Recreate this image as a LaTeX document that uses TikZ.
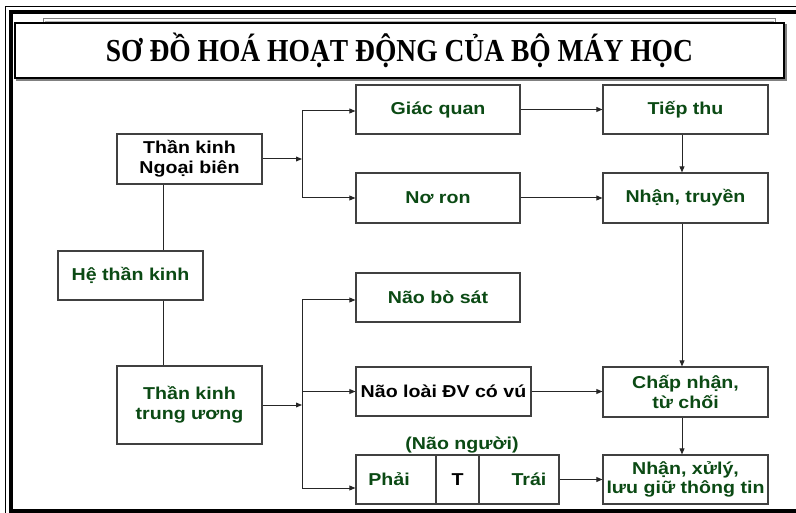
\documentclass[tikz,border=0pt]{standalone}
\usepackage{fontspec}
\usetikzlibrary{arrows.meta}
\newfontfamily\labfont[FakeStretch=1.14]{Liberation Sans}
\newfontfamily\titlefont[FakeStretch=0.86]{Liberation Serif}
\definecolor{dgreen}{HTML}{0B4A14}
\tikzset{
  box/.style={draw=black!75, line width=0.8pt, fill=white, inner sep=0pt, align=center,
    font=\labfont\bfseries\fontsize{12.9}{14.8}\selectfont, text=dgreen},
  blk/.style={text=black},
  conn/.style={line width=0.75pt, draw=black!85},
  arr/.style={conn, -{Triangle[length=4.5pt,width=3.6pt]}},
  lab/.style={inner sep=0pt, font=\labfont\bfseries\fontsize{12.9}{14.8}\selectfont, text=dgreen},
}
\begin{document}
\begin{tikzpicture}[x=0.75pt,y=-0.75pt]
\clip (0,0) rectangle (796,513);
\fill[white] (0,0) rectangle (796,513);
% outer frame
\draw[line width=1.1pt] (5.5,6.5) rectangle (840,540);
\draw[line width=3pt] (11,12) rectangle (820,511);
% title
\draw[gray, line width=0.75pt] (43,19) rectangle (775,81);
\draw[gray!60, line width=0.6pt] (45,21) rectangle (773,79);
\draw[gray, line width=1.2pt] (17,25) rectangle (786,80);
\node[draw=black, line width=1.5pt, fill=white, inner sep=0pt,
      minimum width=576.75pt, minimum height=41.25pt,
      font=\titlefont\bfseries\fontsize{24}{24}\selectfont] (title) at (399.5,50.5)
      {SƠ ĐỒ HOÁ HOẠT ĐỘNG CỦA BỘ MÁY HỌC};
% boxes
\node[box, blk, minimum width=108.75pt, minimum height=37.5pt] (nb) at (189.5,159) {Thần kinh\\Ngoại biên};
\node[box, minimum width=108.75pt, minimum height=36.75pt] (he) at (130.5,275.5) {Hệ thần kinh};
\node[box, minimum width=108.75pt, minimum height=58.5pt] (tu) at (189.5,405) {Thần kinh\\trung ương};
\node[box, minimum width=123pt, minimum height=36.75pt] (gq) at (438,109.5) {Giác quan};
\node[box, minimum width=123pt, minimum height=37.5pt] (nr) at (438,198) {Nơ ron};
\node[box, minimum width=123pt, minimum height=36.75pt] (bs) at (438,297.5) {Não bò sát};
\node[box, blk, minimum width=131.25pt, minimum height=36.75pt] (dv) at (443.5,391.5) {Não loài ĐV có vú};
\node[box, minimum width=123.75pt, minimum height=36.75pt] (tt) at (685.5,109.5) {Tiếp thu};
\node[box, minimum width=123.75pt, minimum height=37.5pt] (ntr) at (685.5,198) {Nhận, truyền};
\node[box, minimum width=123.75pt, minimum height=37.5pt] (cn) at (685.5,392) {Chấp nhận,\\từ chối};
\node[box, minimum width=123.75pt, minimum height=36.75pt] (xl) at (685.5,479.5) {Nhận, xửlý,\\lưu giữ thông tin};
\node[box, minimum width=60pt, minimum height=36.75pt] (ph) at (396,479.5) {Phải\hspace{10.5pt}};
\node[box, blk, minimum width=32.25pt, minimum height=36.75pt] (tm) at (457.5,479.5) {T};
\node[box, minimum width=60pt, minimum height=36.75pt] (tr) at (519,479.5) {\hspace{15pt}Trái};
\node[lab] (nn) at (462,445) {(Não người)};
% helper coordinates
\coordinate (hx) at (163,0);
\coordinate (vx) at (682,0);
\coordinate (b1t) at (302,111);
\coordinate (b1b) at (302,198);
\coordinate (b2t) at (302,300);
\coordinate (b2b) at (302,488);
% connectors
\draw[conn] (hx |- nb.south) -- (hx |- he.north);
\draw[conn] (hx |- he.south) -- (hx |- tu.north);
\draw[arr] (nb.east) -- (nb.east -| b1t);
\draw[conn] (b1t) -- (b1b);
\draw[arr] (b1t) -- (b1t -| gq.west);
\draw[arr] (b1b) -- (b1b -| nr.west);
\draw[arr] (tu.east) -- (tu.east -| b2t);
\draw[conn] (b2t) -- (b2b);
\draw[arr] (b2t) -- (b2t -| bs.west);
\draw[arr] (b2t |- dv.west) -- (dv.west);
\draw[arr] (b2b) -- (b2b -| ph.west);
\draw[arr] (gq.east) -- (gq.east -| tt.west);
\draw[arr] (nr.east) -- (nr.east -| ntr.west);
\draw[arr] (dv.east) -- (dv.east -| cn.west);
\draw[arr] (tr.east) -- (tr.east -| xl.west);
\draw[arr] (vx |- tt.south) -- (vx |- ntr.north);
\draw[arr] (vx |- ntr.south) -- (vx |- cn.north);
\draw[arr] (vx |- cn.south) -- (vx |- xl.north);
\end{tikzpicture}
\end{document}
